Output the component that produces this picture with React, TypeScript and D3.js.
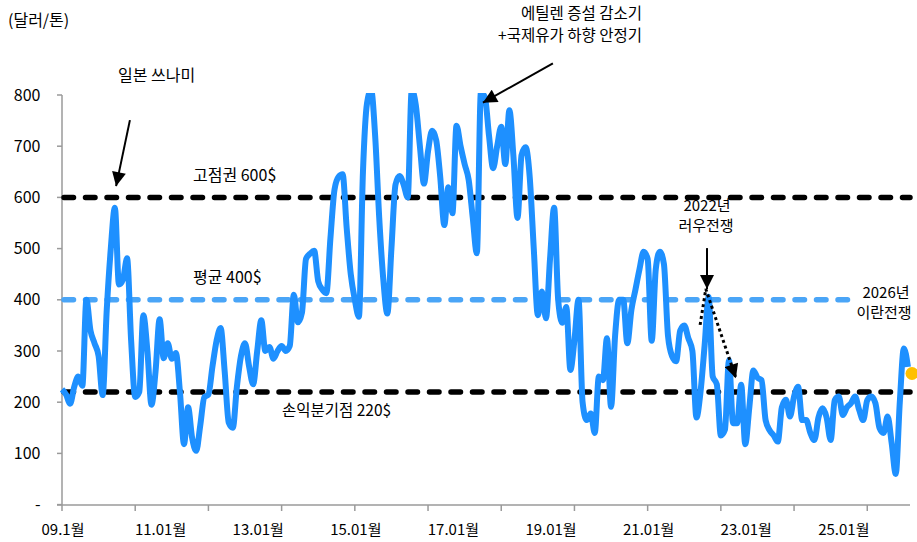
import React from "react";
import * as d3 from "d3";

// Monthly price, 2009.01 .. 2026.05 (달러/톤)
const priceValues: number[] = [
  225, 215, 197, 230, 250, 232, 400, 340, 315, 290, 214, 380,
  500, 580, 430, 440, 481, 320, 210, 220, 370, 300, 195, 260,
  362, 286, 315, 285, 296, 220, 118, 190, 130, 105, 155, 210,
  215, 270, 320, 345, 260, 160, 150, 230, 290, 315, 270, 235,
  300, 360, 300, 308, 285, 300, 310, 300, 310, 410, 356, 375,
  480, 490, 496, 436, 420, 413, 520, 615, 640, 645, 540, 450,
  400, 367, 650, 784, 810, 720, 560, 440, 373, 500, 625, 642,
  625, 600, 810, 780, 700, 627, 690, 730, 712, 640, 546, 620,
  569, 740, 700, 665, 634, 560, 491, 805, 795, 720, 657, 700,
  738, 665, 770, 680, 560, 683, 698, 640, 500, 370, 416, 364,
  480, 580, 400, 355, 386, 263, 321, 400, 200, 165, 178, 140,
  250, 243, 325, 191, 330, 400, 400, 315, 380, 420, 460, 494,
  480, 320, 460, 494, 470, 330, 290, 280, 340, 350, 325, 300,
  170, 220, 310, 406, 250, 235, 135, 146, 282, 159, 159, 234,
  118, 190, 262, 248, 243, 165, 145, 135, 123, 190, 205, 172,
  211, 230, 165, 165, 140, 126, 170, 188, 170, 126, 204, 211,
  175, 190, 198, 211, 185, 165, 204, 211, 198, 150, 140, 172,
  120, 60, 200, 305, 269,
];
const latestValue = 256;

const xLabels = ["09.1월", "11.01월", "13.01월", "15.01월", "17.01월", "19.01월", "21.01월", "23.01월", "25.01월"];
const xLabelStep = 24;
const xTickStep = 18;
const yTicks = [0, 100, 200, 300, 400, 500, 600, 700, 800];

const refValues = [600, 400, 220];
const refLabels = ["고점권 600$", "평균 400$", "손익분기점 220$"];

const W = 917;
const H = 542;
const FONT = "'Noto Sans CJK KR', 'Noto Sans', sans-serif";

export default function App() {
  const n = priceValues.length;
  const step = 4.067;
  const x = d3.scaleLinear().domain([0, n - 1]).range([62, 62 + (n - 1) * step]);
  const y = d3.scaleLinear().domain([0, 800]).range([504.6, 95]);

  const line = d3
    .line<number>()
    .x((_, i) => x(i))
    .y((d) => y(d))
    .curve(d3.curveMonotoneX);

  const tickIdx = d3.range(0, n, xTickStep);
  const refColors = ["#000000", "#4AA5F7", "#000000"];
  const refLabelPos = [
    { x: 193, y: 181, fs: 16 },
    { x: 193, y: 282.5, fs: 16 },
    { x: 282, y: 416, fs: 15.5 },
  ];

  const ann = {
    tsunami: { from: [16.7, 751], to: [13.3, 622] },
    ethylene: { from: [120.7, 862], to: [103.5, 785] },
    war2022: { from: [158.6, 501], to: [158.6, 421] },
    dotted: [
      [156.9, 351],
      [158.3, 421],
      [165.7, 247],
    ],
  };
  const P = (p: number[]) => [x(p[0]), y(p[1])];

  const dottedPath = d3.line()(ann.dotted.map((p) => P(p) as [number, number]));

  return (
    <svg
      width={W}
      height={H}
      style={{ position: "absolute", left: 0, top: 0, background: "#fff" }}
      fontFamily={FONT}
    >
      <defs>
        <marker
          id="arr"
          viewBox="0 0 10 10"
          refX={10}
          refY={5}
          markerUnits="userSpaceOnUse"
          markerWidth={15}
          markerHeight={14}
          orient="auto"
        >
          <path d="M0,0 L10,5 L0,10 z" fill="#000" />
        </marker>
        <clipPath id="plot">
          <rect x={55} y={93} width={870} height={420} />
        </clipPath>
      </defs>
      <rect width={W} height={H} fill="#fff" />

      {/* axes */}
      <line x1={62} x2={62} y1={95} y2={505} stroke="#9a9a9a" strokeWidth={1.5} />
      {yTicks.map((t) => (
        <g key={t}>
          <line x1={57} x2={62} y1={y(t)} y2={y(t)} stroke="#9a9a9a" strokeWidth={1.5} />
          <text x={40.5} y={y(t) + 5.5} textAnchor="end" fontSize={16} fill="#000">
            {t === 0 ? "-" : t}
          </text>
        </g>
      ))}
      <line x1={57} x2={910} y1={505} y2={505} stroke="#9a9a9a" strokeWidth={1.5} />
      {tickIdx.map((i) => (
        <line key={i} x1={x(i)} x2={x(i)} y1={505} y2={511} stroke="#9a9a9a" strokeWidth={1.5} />
      ))}
      {xLabels.map((l, k) => (
        <text key={l} x={x(k * xLabelStep) + 1} y={535} textAnchor="middle" fontSize={15} fill="#000">
          {l}
        </text>
      ))}

      {/* reference lines */}
      {refValues.map((v, k) => (
        <line
          key={v}
          x1={64}
          x2={910}
          y1={y(v)}
          y2={y(v)}
          stroke={refColors[k]}
          strokeWidth={5.5}
          strokeDasharray="9.5 12"
          strokeLinecap="round"
        />
      ))}

      {/* series */}
      <g clipPath="url(#plot)">
        <path
          d={line(priceValues) || ""}
          fill="none"
          stroke="#1E90FF"
          strokeWidth={6}
          strokeLinejoin="round"
        />
      </g>
      <circle cx={x(n)} cy={y(latestValue)} r={6.5} fill="#FFC000" />

      {/* ref labels */}
      {refLabels.map((l, k) => (
        <text key={l} x={refLabelPos[k].x} y={refLabelPos[k].y} fontSize={refLabelPos[k].fs} fill="#000">
          {l}
        </text>
      ))}

      {/* annotations */}
      <text x={8} y={26} fontSize={16} fill="#000">(달러/톤)</text>
      <text x={118} y={81} fontSize={16} fill="#000">일본 쓰나미</text>
      <line
        x1={P(ann.tsunami.from)[0]}
        y1={P(ann.tsunami.from)[1]}
        x2={P(ann.tsunami.to)[0]}
        y2={P(ann.tsunami.to)[1]}
        stroke="#000"
        strokeWidth={2}
        markerEnd="url(#arr)"
      />
      <text x={642} y={18.5} textAnchor="end" fontSize={15.5} fill="#000">에틸렌 증설 감소기</text>
      <text x={642} y={41} textAnchor="end" fontSize={15.5} fill="#000">+국제유가 하향 안정기</text>
      <line
        x1={P(ann.ethylene.from)[0]}
        y1={P(ann.ethylene.from)[1]}
        x2={P(ann.ethylene.to)[0]}
        y2={P(ann.ethylene.to)[1]}
        stroke="#000"
        strokeWidth={2}
        markerEnd="url(#arr)"
      />
      <text textAnchor="middle" fontSize={15} fill="#000">
        <tspan x={707} y={211}>2022년</tspan>
        <tspan x={706} y={231}>러우전쟁</tspan>
      </text>
      <line
        x1={P(ann.war2022.from)[0]}
        y1={P(ann.war2022.from)[1]}
        x2={P(ann.war2022.to)[0]}
        y2={P(ann.war2022.to)[1]}
        stroke="#000"
        strokeWidth={2}
        markerEnd="url(#arr)"
      />
      <path
        d={dottedPath || ""}
        fill="none"
        stroke="#000"
        strokeWidth={3}
        strokeDasharray="3 3"
        markerEnd="url(#arr)"
      />
      <rect x={856} y={282} width={61} height={40} fill="#fff" />
      <text textAnchor="middle" fontSize={15} fill="#000">
        <tspan x={886} y={297.5}>2026년</tspan>
        <tspan x={884} y={317.5}>이란전쟁</tspan>
      </text>
    </svg>
  );
}
